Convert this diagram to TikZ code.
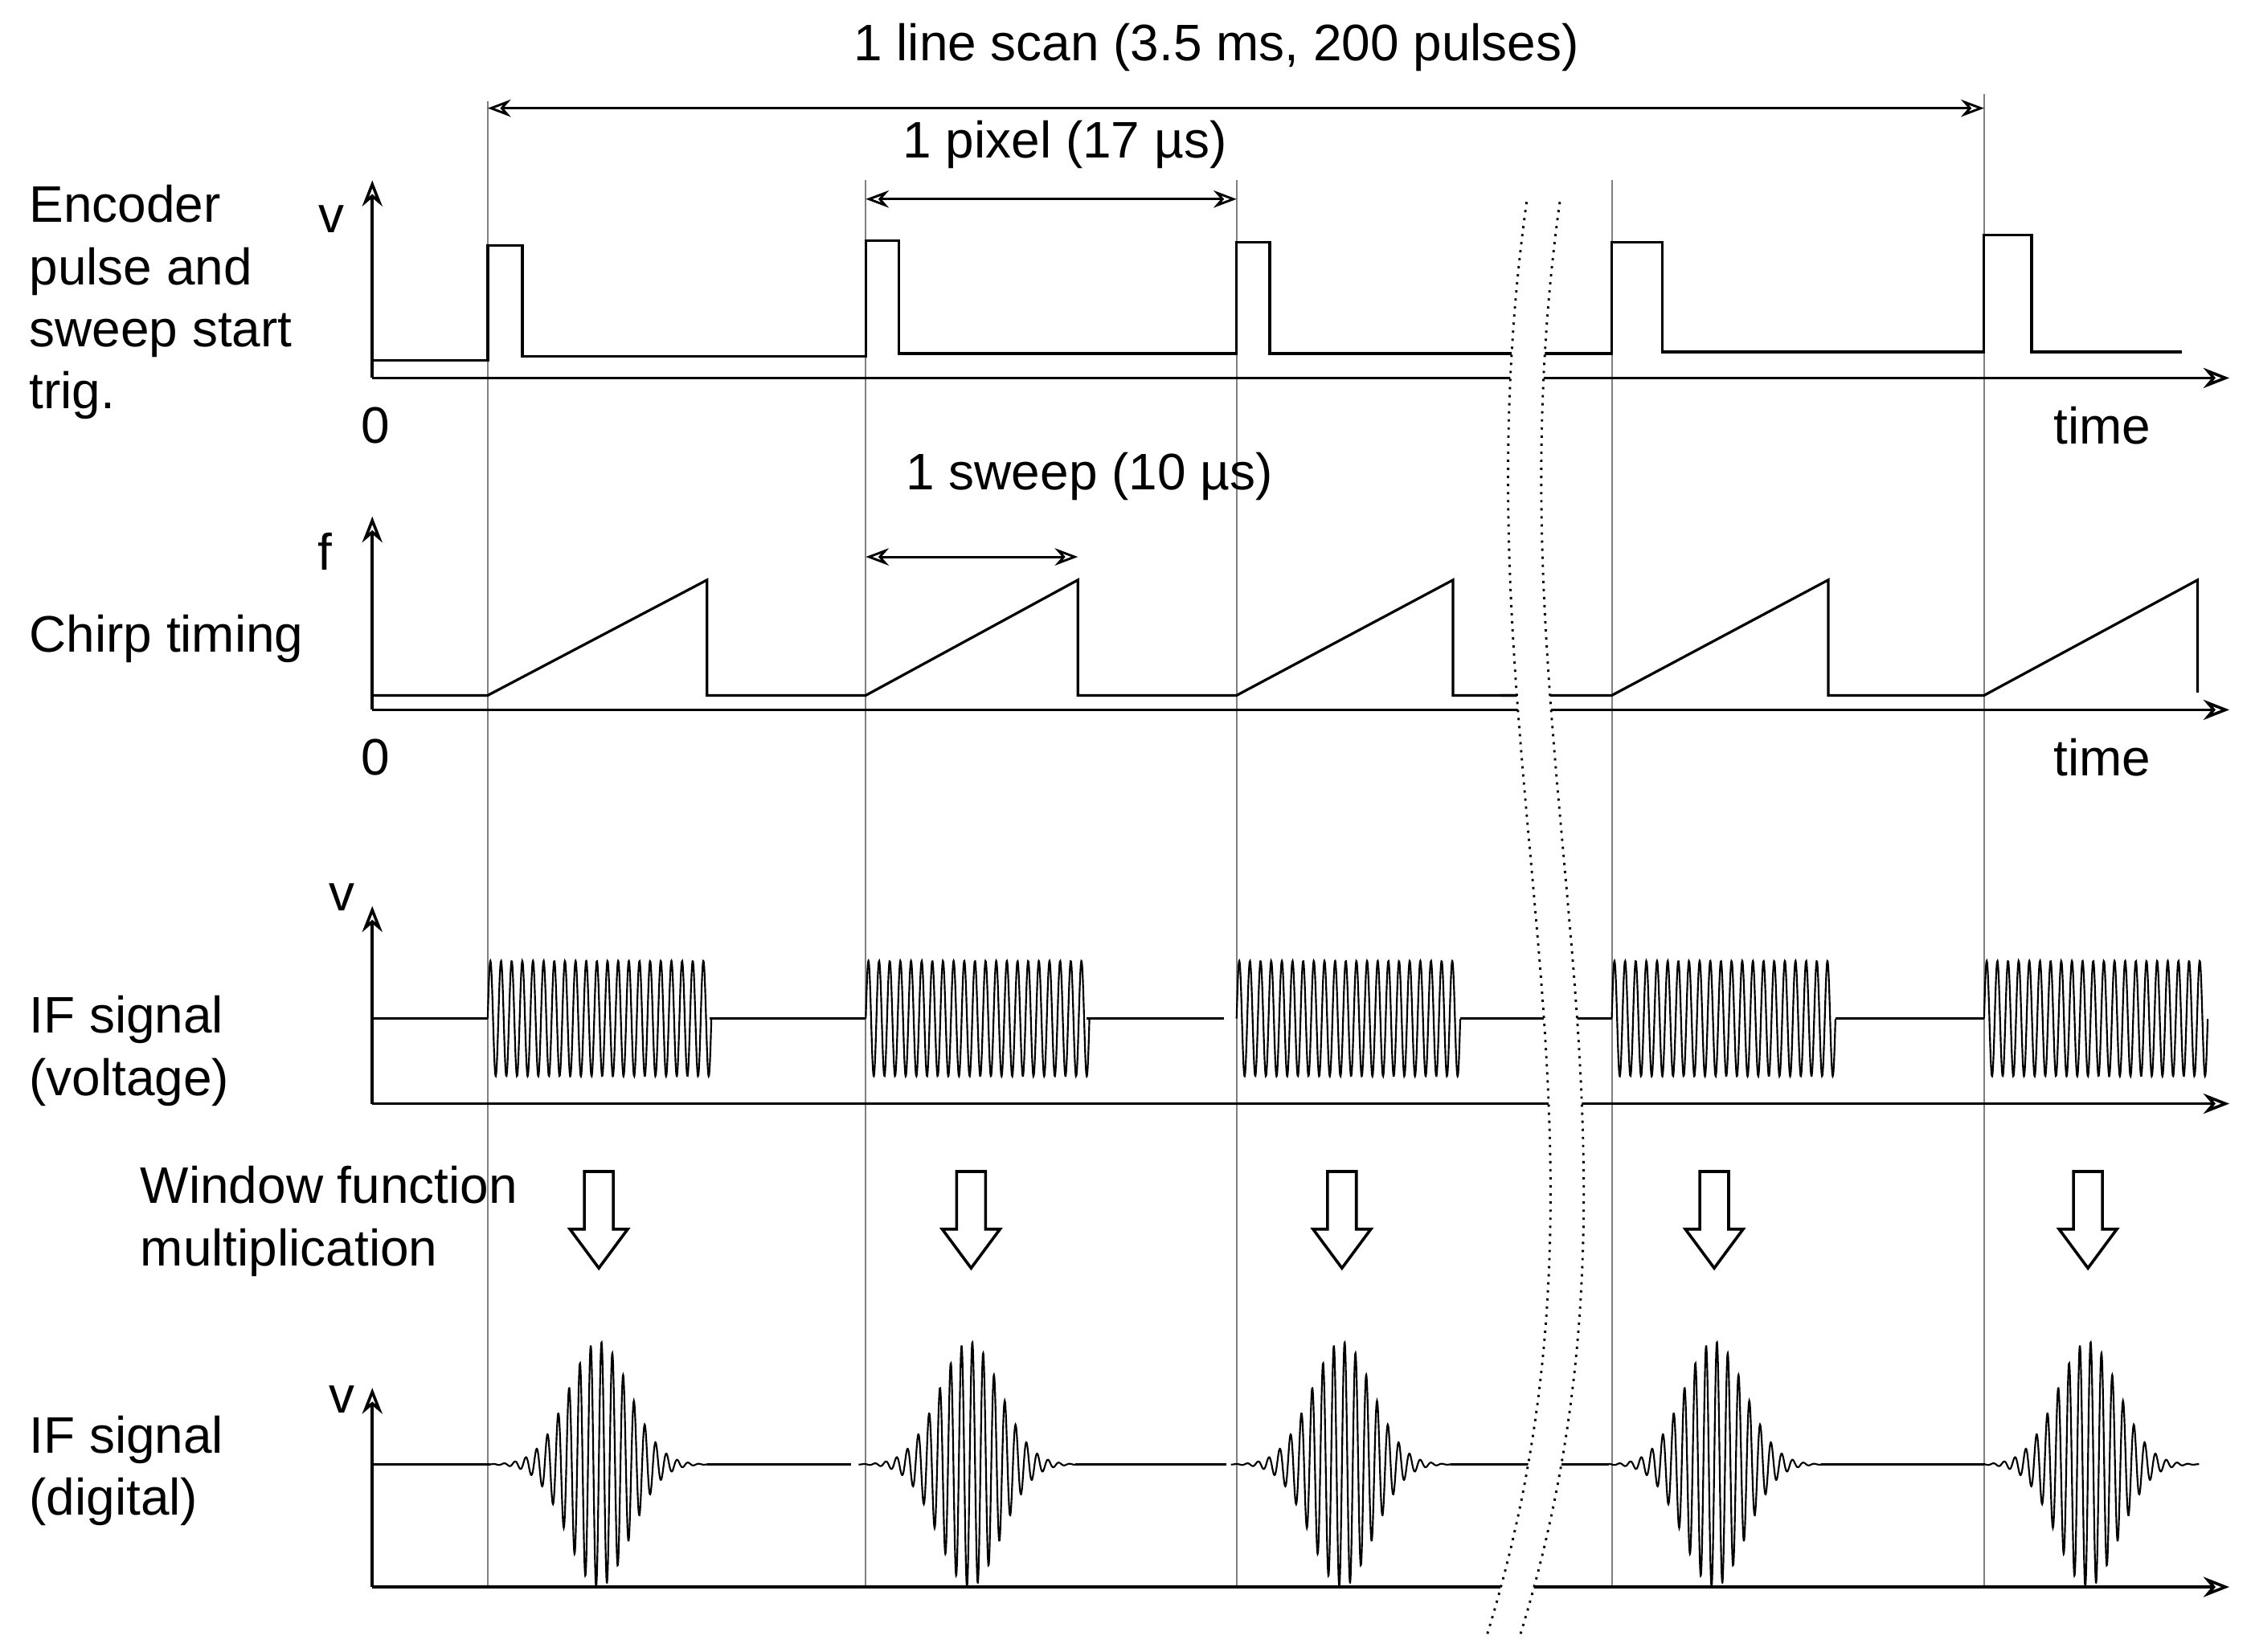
\documentclass[tikz,border=0pt]{standalone}
\usepackage{fontspec}
\setmainfont{Liberation Sans}
\usetikzlibrary{arrows.meta}
\begin{document}
\begin{tikzpicture}[x=0.5pt,y=-0.5pt,
  lab/.style={font=\fontsize{17.8}{21.5}\selectfont,inner sep=0pt},
  sig/.style={line width=0.9pt},
  ax/.style={line width=1pt,-{Stealth[length=9pt,width=7pt,open]}},
  dim/.style={line width=0.8pt,{Stealth[length=8pt,width=6pt,open]}-{Stealth[length=8pt,width=6pt,open]}},
  vl/.style={gray,line width=0.5pt}]
\useasboundingbox (0,0) rectangle (1560,1145);
% vertical guide lines
\draw[vl] (338,70)--(338,1100);
\foreach \x in {600,857,1117}{\draw[vl] (\x,125)--(\x,1100);}
\draw[vl] (1375,65)--(1375,1100);
% top dimensions
\node[lab] (t1) at (843,33) {1 line scan (3.5 ms, 200 pulses)};
\draw[dim] (338,75)--(1375,75);
\node[lab] (t2) at (738,100) {1 pixel (17 µs)};
\draw[dim] (600,138)--(857,138);
\node[lab] (t3) at (755,330) {1 sweep (10 µs)};
\draw[dim] (600,386)--(747,386);
% left labels
\node[lab,anchor=north west,align=left] (l1) at (20,128) {Encoder\\pulse and\\sweep start\\trig.};
\node[lab,anchor=west] (l2) at (20,443) {Chirp timing};
\node[lab,anchor=north west,align=left] (l3) at (20,690) {IF signal\\(voltage)};
\node[lab,anchor=north west,align=left] (l4) at (20,981) {IF signal\\(digital)};
\node[lab,anchor=north west,align=left] (l5) at (97,808) {Window function\\multiplication};
% panel 1
\draw[ax] (258,262)--(258,125);
\draw[ax] (258,262)--(1545,262);
\node[lab] at (230,152) {v};
\node[lab] at (260,295) {0};
\node[lab] at (1457,295) {time};
\draw[sig] (258,250)--(338,250)--(338,170)--(362,170)--(362,247)--(600,247)--(600,167)--(623,167)--(623,245)--(857,245)--(857,168)--(880,168)--(880,245)--(1060,245);
\draw[sig] (1050,245)--(1117,245)--(1117,168)--(1152,168)--(1152,244)--(1375,244)--(1375,163)--(1408,163)--(1408,244)--(1512,244);
% panel 2
\draw[ax] (258,492)--(258,358);
\draw[ax] (258,492)--(1545,492);
\node[lab] at (225,382) {f};
\node[lab] at (260,525) {0};
\node[lab] at (1457,525) {time};
\draw[sig] (258,482)--(338,482)--(490,402)--(490,482)--(600,482)--(747,402)--(747,482)--(857,482)--(1007,402)--(1007,482)--(1060,482);
\draw[sig] (1040,482)--(1117,482)--(1267,402)--(1267,482)--(1375,482)--(1523,402)--(1523,480);
% panel 3
\draw[ax] (258,765)--(258,628);
\draw[ax] (258,765)--(1545,765);
\node[lab] at (237,622) {v};
\draw[sig] (258,706)--(338,706) (492,706)--(600,706) (753,706)--(848,706) (1012,706)--(1117,706) (1272,706)--(1375,706);
\foreach \s in {338,600,857,1117,1375}{
  \draw[line width=0.6pt] plot[domain=0:155,samples=500,smooth] ({\s+\x},{706-40*sin(\x*21/155*360)});
}
% arrows
\foreach \x in {415,673,930,1188,1447}{
  \draw[line width=1pt,fill=white] (\x-10,812)--(\x+10,812)--(\x+10,852)--(\x+20,852)--(\x,879)--(\x-20,852)--(\x-10,852)--cycle;
}
% panel 4
\draw[ax] (258,1100)--(258,962);
\draw[ax] (258,1100)--(1545,1100);
\node[lab] at (237,970) {v};
\draw[sig] (258,1015)--(340,1015) (490,1015)--(590,1015) (745,1015)--(850,1015) (1005,1015)--(1115,1015) (1262,1015)--(1375,1015);
\foreach \c in {415,672,930,1188,1447}{
  \draw[line width=0.6pt] plot[domain=-77:77,samples=600,smooth] ({\c+\x},{1015-85*exp(-(\x/30)*(\x/30))*sin(\x*20/150*360)});
}
% break
\fill[white] (1058,140) .. controls (1005,520) and (1140,780) .. (1030,1135) -- (1053,1135) .. controls (1163,780) and (1028,520) .. (1081,140) -- cycle;
\draw[dotted,line width=0.8pt] (1058,140) .. controls (1005,520) and (1140,780) .. (1030,1135);
\draw[dotted,line width=0.8pt] (1081,140) .. controls (1028,520) and (1163,780) .. (1053,1135);
\end{tikzpicture}
\end{document}
